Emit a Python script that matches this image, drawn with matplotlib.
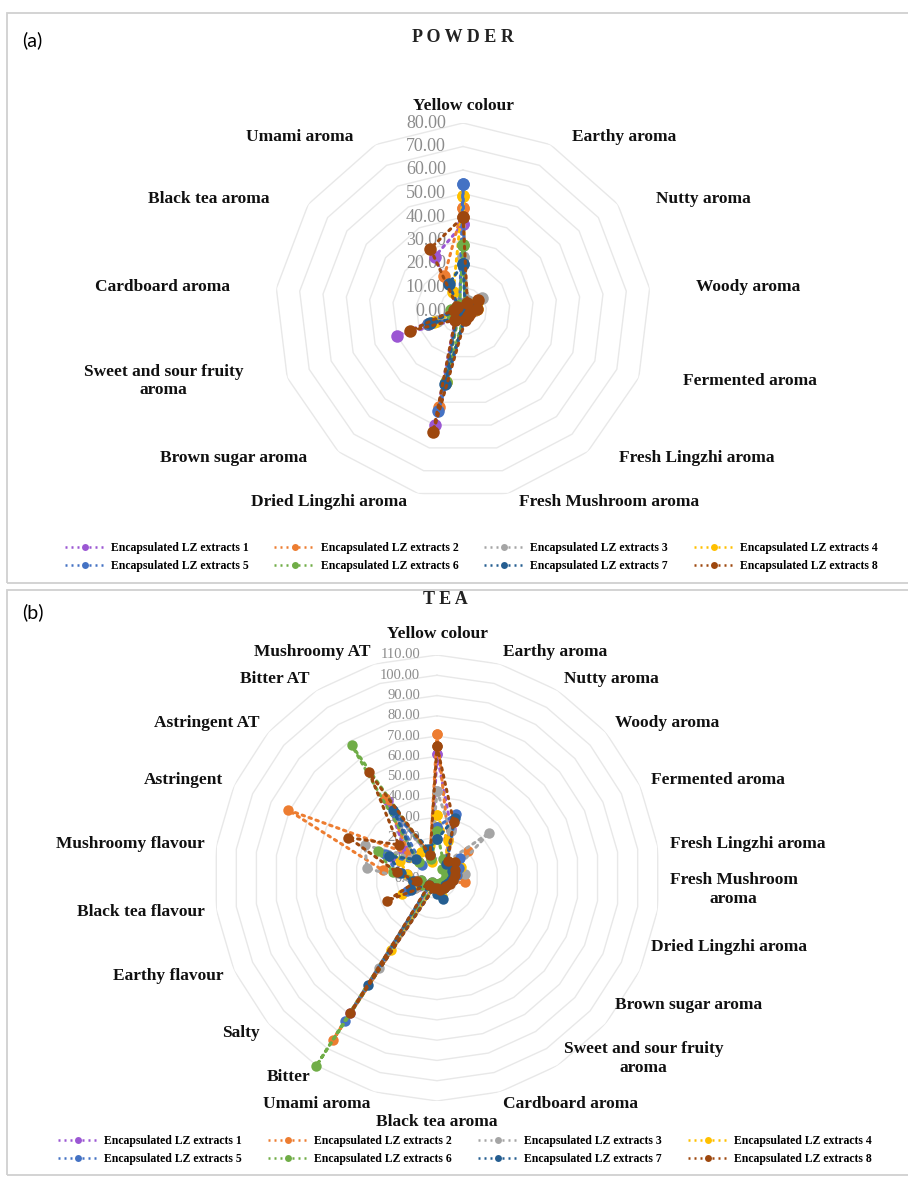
import numpy as np
import matplotlib.pyplot as plt
from matplotlib.lines import Line2D
from matplotlib.patches import Rectangle

plt.rcParams['font.family'] = 'Liberation Serif'

# ---- data ----
powder_attrs = ['Yellow colour', 'Earthy aroma', 'Nutty aroma', 'Woody aroma',
                'Fermented aroma', 'Fresh Lingzhi aroma', 'Fresh Mushroom aroma',
                'Dried Lingzhi aroma', 'Brown sugar aroma',
                'Sweet and sour fruity\naroma', 'Cardboard aroma',
                'Black tea aroma', 'Umami aroma']
tea_attrs = ['Yellow colour', 'Earthy aroma', 'Nutty aroma', 'Woody aroma',
             'Fermented aroma', 'Fresh Lingzhi aroma', 'Fresh Mushroom\naroma',
             'Dried Lingzhi aroma', 'Brown sugar aroma',
             'Sweet and sour fruity\naroma', 'Cardboard aroma',
             'Black tea aroma', 'Umami aroma', 'Bitter', 'Salty',
             'Earthy flavour', 'Black tea flavour', 'Mushroomy flavour',
             'Astringent', 'Astringent AT', 'Bitter AT', 'Mushroomy AT']

powder_ticks = [0, 10, 20, 30, 40, 50, 60, 70, 80]
tea_ticks = [0, 10, 20, 30, 40, 50, 60, 70, 80, 90, 100, 110]

series_names = ['Encapsulated LZ extracts %d' % i for i in range(1, 9)]
series_colors = ['#9B57D3', '#ED7D31', '#A5A5A5', '#FFC000',
                 '#4472C4', '#70AD47', '#255E91', '#9E480E']

# powder scores (13 attributes)
powder_lz1 = [37, 2, 3, 3, 2, 2, 3, 50, 5, 30, 3, 3, 26]
powder_lz2 = [44, 3, 4, 5, 2, 2, 3, 42, 4, 16, 3, 2, 17]
powder_lz3 = [23, 5, 10, 5, 2, 2, 3, 31, 3, 12, 3, 2, 4]
powder_lz4 = [49, 3, 7, 6, 2, 2, 3, 31, 4, 13, 3, 2, 9]
powder_lz5 = [54, 2, 3, 3, 2, 2, 3, 44, 4, 16, 4, 3, 3]
powder_lz6 = [28, 2, 3, 3, 2, 2, 2, 31, 3, 5, 5, 3, 3]
powder_lz7 = [20, 2, 3, 3, 2, 2, 3, 32, 4, 15, 3, 2, 13]
powder_lz8 = [40, 4, 8, 6, 3, 3, 4, 53, 5, 24, 4, 3, 30]

# tea scores (22 attributes)
tea_lz1 = [61, 25, 6, 8, 6, 6, 5, 5, 4, 4, 4, 3, 3, 79, 3, 10, 8, 15, 25, 21, 45, 10]
tea_lz2 = [71, 20, 8, 20, 10, 10, 14, 6, 5, 5, 5, 4, 4, 95, 4, 12, 10, 27, 81, 18, 47, 12]
tea_lz3 = [43, 24, 10, 34, 10, 14, 8, 6, 5, 4, 5, 4, 4, 53, 4, 12, 12, 35, 39, 15, 38, 10]
tea_lz4 = [31, 19, 8, 12, 13, 10, 8, 6, 5, 5, 9, 5, 4, 42, 4, 19, 12, 15, 20, 12, 15, 8]
tea_lz5 = [25, 33, 9, 15, 12, 10, 8, 6, 5, 5, 6, 5, 4, 84, 4, 16, 12, 20, 28, 10, 38, 12]
tea_lz6 = [23, 10, 5, 6, 5, 5, 4, 4, 3, 3, 4, 3, 3, 110, 3, 8, 8, 22, 32, 12, 78, 10]
tea_lz7 = [19, 31, 8, 10, 8, 8, 7, 6, 5, 6, 11, 8, 5, 63, 5, 14, 12, 18, 26, 14, 40, 15]
tea_lz8 = [65, 29, 10, 12, 10, 9, 8, 7, 6, 6, 6, 5, 5, 79, 5, 27, 10, 20, 48, 25, 62, 12]

powder_series = [powder_lz1, powder_lz2, powder_lz3, powder_lz4,
                 powder_lz5, powder_lz6, powder_lz7, powder_lz8]
tea_series = [tea_lz1, tea_lz2, tea_lz3, tea_lz4,
              tea_lz5, tea_lz6, tea_lz7, tea_lz8]

DOT = (0, (0.8, 1.6))


def draw_radar(ax, attrs, series, ticks, rx, ry, tick_fs, ms, nudge=None):
    nudge = nudge or {}
    n = len(attrs)
    theta = np.arange(n) * 2 * np.pi / n
    closed = np.append(theta, theta[0])
    ax.set_theta_zero_location('N')
    ax.set_theta_direction(-1)
    ax.set_ylim(0, ticks[-1])
    ax.set_axis_off()

    # polygon gridlines like excel
    for t in ticks[1:]:
        ax.plot(closed, [t] * (n + 1), color='#e8e8e8', lw=1.0, zorder=1)

    for vals, col in zip(series, series_colors):
        v = np.append(vals, vals[0])
        ax.plot(closed, v, ls=DOT, lw=2.2, color=col, marker='o', ms=ms,
                mew=0, dash_capstyle='round', zorder=3, clip_on=False)

    for t in ticks:
        ax.annotate('%.2f' % t, xy=(0, t), xytext=(-17, 0),
                    textcoords='offset pixels', ha='right', va='center',
                    color='#8c8c8c', fontsize=tick_fs, zorder=2)

    for i, (th, name) in enumerate(zip(theta, attrs)):
        s, c = np.sin(th), np.cos(th)
        ha = 'center' if abs(s) < 0.05 else ('left' if s > 0 else 'right')
        va = 'bottom' if c > 0.99 else ('top' if c < -0.99 else 'center')
        ax.annotate(name, xy=(0, 0), xytext=(rx * s, ry * c + nudge.get(i, 0)),
                    textcoords='offset pixels', ha=ha, va=va,
                    fontsize=12.5, fontweight='bold', color='#111111',
                    multialignment='center', annotation_clip=False)


fig = plt.figure(figsize=(9.08, 11.78), dpi=100)

# panel frames
fig.add_artist(Rectangle((7 / 908, 1 - 583 / 1178), 1.0, 570 / 1178,
                         transform=fig.transFigure, fill=False,
                         ec='#d0d0d0', lw=1.3))
fig.add_artist(Rectangle((7 / 908, 1 - 1175 / 1178), 1.0, 585 / 1178,
                         transform=fig.transFigure, fill=False,
                         ec='#d0d0d0', lw=1.3))

ax1 = fig.add_axes([275 / 908, 1 - 499 / 1178, 376 / 908, 376 / 1178],
                   projection='polar')
draw_radar(ax1, powder_attrs, powder_series, powder_ticks, 235, 197, 13, 9)

ax2 = fig.add_axes([214 / 908, 1 - 1101 / 1178, 446 / 908, 446 / 1178],
                   projection='polar')
# excel pushed the lower right labels of the tea chart upwards
draw_radar(ax2, tea_attrs, tea_series, tea_ticks, 235, 236, 10.5, 7.5,
           nudge={6: 22, 7: 29, 8: 28, 9: 18})

fig.text(22 / 908, 1 - 40 / 1178, '(a)', fontsize=14, family='Lato',
         va='center', ha='left')
fig.text(22 / 908, 1 - 612 / 1178, '(b)', fontsize=14, family='Lato',
         va='center', ha='left')
fig.text(463 / 908, 1 - 38 / 1178, 'P O W D E R', fontsize=13,
         fontweight='bold', ha='center', va='center', color='#222222')
fig.text(445 / 908, 1 - 600 / 1178, 'T E A', fontsize=13,
         fontweight='bold', ha='center', va='center', color='#222222')

# legends: excel fills row by row, matplotlib column by column
handles = [Line2D([], [], ls=DOT, lw=1.8, color=c, marker='o', ms=5, mew=0)
           for c in series_colors]
order = [0, 4, 1, 5, 2, 6, 3, 7]
for ypx, xc in [(557, 0.519), (1150, 0.512)]:
    fig.legend([handles[i] for i in order], [series_names[i] for i in order],
               ncol=4, loc='center', bbox_to_anchor=(xc, 1 - ypx / 1178),
               frameon=False, handlelength=3.4, handletextpad=0.5,
               columnspacing=2.2, labelspacing=0.45,
               prop={'family': 'Liberation Serif', 'weight': 'bold',
                     'size': 8.5})

fig.savefig('out.png', dpi=100)
